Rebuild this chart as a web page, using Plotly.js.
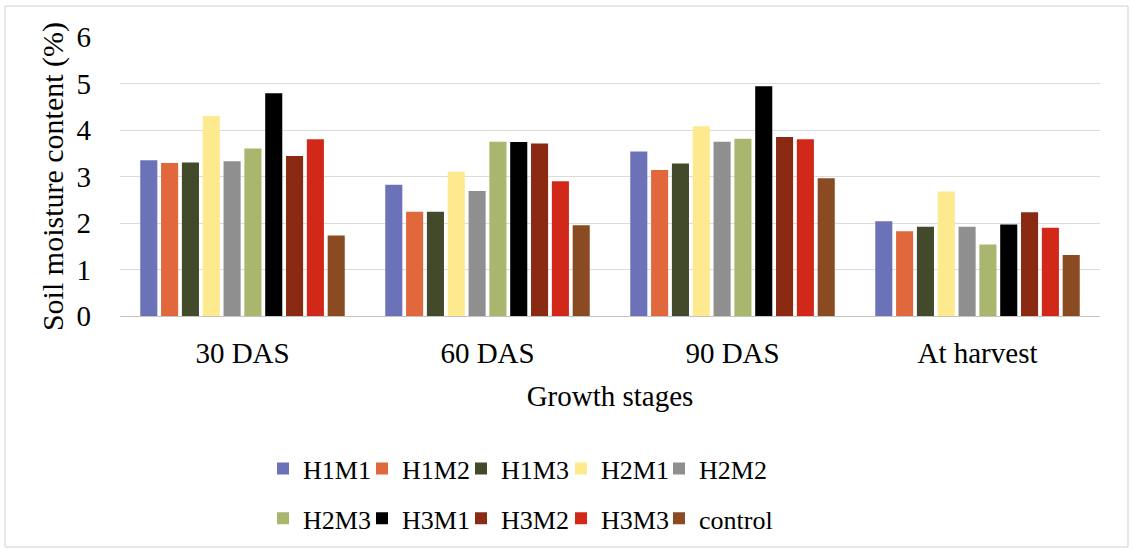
<!DOCTYPE html>
<html>
<head>
<meta charset="utf-8">
<script src="https://cdn.plot.ly/plotly-3.0.1.min.js"></script>
<style>html,body{margin:0;padding:0;background:#fff;}#chart{width:1133px;height:553px;}</style>
</head>
<body>
<div id="chart"></div>
<script>
const categories = ["30 DAS", "60 DAS", "90 DAS", "At harvest"];
const seriesNames = ["H1M1","H1M2","H1M3","H2M1","H2M2","H2M3","H3M1","H3M2","H3M3","control"];
const H1M1 = [3.35, 2.82, 3.54, 2.04];
const H1M2 = [3.29, 2.24, 3.14, 1.82];
const H1M3 = [3.30, 2.24, 3.28, 1.92];
const H2M1 = [4.30, 3.10, 4.08, 2.68];
const H2M2 = [3.33, 2.69, 3.75, 1.92];
const H2M3 = [3.60, 3.75, 3.81, 1.54];
const H3M1 = [4.79, 3.74, 4.94, 1.97];
const H3M2 = [3.44, 3.71, 3.85, 2.23];
const H3M3 = [3.80, 2.90, 3.80, 1.90];
const control = [1.73, 1.95, 2.96, 1.31];
const seriesValues = [H1M1,H1M2,H1M3,H2M1,H2M2,H2M3,H3M1,H3M2,H3M3,control];
const colors = ["#6b72b8","#e0683c","#434a2c","#fde98e","#8f8f8f","#a9b66e","#000000","#8a2a12","#d2281a","#8a4a22"];
const yTicks = [0,1,2,3,4,5,6];

const font = "Liberation Serif, Times New Roman, serif";
const legendIds = ["legend","legend2","legend3","legend4","legend5"];
const data = seriesNames.map((n,i)=>({
  type:"bar", name:n, x:categories, y:seriesValues[i],
  marker:{color:colors[i]},
  legend: legendIds[i % 5],
  legendgroup: "g" + i
}));
// legend column left edges in pixels (layout only)
const colPx = [263, 362, 461, 561, 659];
const layout = {
  width:1133, height:553,
  margin:{l:120, r:33, t:37, b:237, autoexpand:false},
  paper_bgcolor:"#fff", plot_bgcolor:"#fff",
  font:{family:font, size:28, color:"#000"},
  barmode:"group", bargap:0.15, bargroupgap:0.18,
  showlegend:true,
  xaxis:{
    automargin:false,
    tickfont:{family:font,size:29,color:"#000"},
    showline:true, linecolor:"#c4c4c4", linewidth:1,
    ticks:"", ticklabelstandoff:11,
    title:{text:"Growth stages", font:{family:font,size:29,color:"#000"}, standoff:17}
  },
  yaxis:{
    automargin:false,
    range:[0,6], tickvals:yTicks, ticktext:yTicks.map(String),
    showgrid:true, gridcolor:"#dcdcdc", gridwidth:1, zeroline:false,
    tickfont:{family:font,size:29,color:"#000"}, ticks:"", ticklabelstandoff:28,
    title:{text:"Soil moisture content (%)", font:{family:font,size:30,color:"#000"}, standoff:4}
  },
  shapes:[{type:"rect", xref:"paper", yref:"paper", x0:-0.1173, x1:1.0286, y0:-0.828, y1:1.111,
    line:{color:"#d0d0d0", width:1}, fillcolor:"rgba(0,0,0,0)"}]
};
legendIds.forEach((id,k)=>{
  layout[id] = {
    orientation:"v", xref:"paper", x:(colPx[k]-120)/980, xanchor:"left",
    yref:"container", y:0.195, yanchor:"top",
    font:{family:font,size:26,color:"#000"},
    itemwidth:30, traceorder:"grouped", tracegroupgap:13,
    bgcolor:"rgba(0,0,0,0)", borderwidth:0
  };
});
Plotly.newPlot("chart", data, layout, {staticPlot:true, displayModeBar:false});
</script>
</body>
</html>
